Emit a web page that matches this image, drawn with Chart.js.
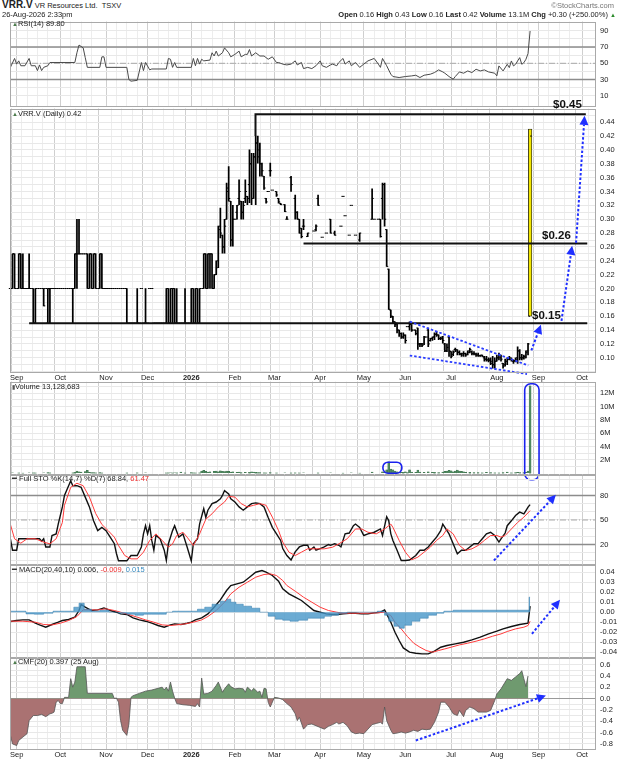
<!DOCTYPE html>
<html><head><meta charset="utf-8">
<script src="https://cdn.jsdelivr.net/npm/chart.js"></script>
<style>
html,body{margin:0;padding:0;background:#fff;}
body{width:624px;height:759px;overflow:hidden;position:relative;font-family:"Liberation Sans",Arial,sans-serif;}
.wrap{position:absolute;left:0;width:624px;}
.wrap canvas{display:block;}
.t{position:absolute;white-space:nowrap;font-size:7.5px;line-height:1;color:#222;z-index:5;}
.big{position:absolute;font-weight:bold;font-size:11.5px;line-height:1;color:#111;z-index:5;white-space:nowrap;}
.ic{font-size:6px;color:#4a7a4a;}
</style></head><body>
<div id="charts"></div>
<div class="t" style="left:2px;top:0px;"><b style="font-size:10px;">VRR.V</b> VR Resources Ltd. &nbsp;TSXV</div>
<div class="t" style="right:10px;top:2px;color:#777;">©StockCharts.com</div>
<div class="t" style="left:2px;top:11px;">26-Aug-2026 2:33pm</div>
<div class="t" style="right:8px;top:11px;"><b>Open</b> 0.16 <b>High</b> 0.43 <b>Low</b> 0.16 <b>Last</b> 0.42 <b>Volume</b> 13.1M <b>Chg</b> +0.30 (+250.00%) <span style="color:#2a8a2a;font-size:6px;">▲</span></div>
<div class="t" style="left:12px;top:20px;"><span class="ic">▲</span>RSI(14) 89.80</div>
<div class="t" style="left:12px;top:110px;"><span class="ic">▲</span>VRR.V (Daily) 0.42</div>
<div class="t" style="left:12px;top:383px;"><span style="font-size:6px;color:#555;">▮</span>Volume 13,128,683</div>
<div class="t" style="left:12px;top:475px;">━ Full STO %K(14,7) %D(7) 68.84, <span style="color:#e33;">61.47</span></div>
<div class="t" style="left:12px;top:566px;">━ MACD(20,40,10) 0.006, <span style="color:#e33;">-0.009</span>, <span style="color:#3a8cc0;">0.015</span></div>
<div class="t" style="left:12px;top:658px;"><span class="ic">▲</span>CMF(20) 0.397 (25 Aug)</div>
<div class="big" style="left:553px;top:99px;">$0.45</div>
<div class="big" style="left:542px;top:230px;">$0.26</div>
<div class="big" style="left:532px;top:310px;">$0.15</div>
<script>
// ---------- DATA ----------
const firstDay = -3; // trading-day index of first bar (0 = 2 Sep 2025)
const monthStartDay = [0,21,43,63,84,105,124,146,167,187,209,231,251,272];
const monthLabels = ['Sep','Oct','Nov','Dec','2026','Feb','Mar','Apr','May','Jun','Jul','Aug','Sep','Oct'];

const priceOpen = [
.20,.20,.25,.20,.20,.25,.20,.20,.20,.20,
.20,.20,.15,.20,.20,.20,.20,.20,.15,.20,
.20,.20,.20,.20,.20,.20,.20,.20,.20,.20,
.20,.20,.25,.25,.25,.25,.25,.25,.20,.25,
.20,.25,.20,.20,.25,.20,.20,.20,.20,.20,
.20,.20,.20,.20,.20,.20,.20,.15,.15,.15,
.15,.15,.15,.20,.15,.15,.15,.20,.20,.15,
.15,.15,.15,.15,.15,.15,.20,.15,.20,.20,
.15,.15,.15,.15,.15,.15,.15,.15,.20,.15,
.20,.15,.20,.20,.25,.20,.25,.25,.20,.22,
.24,.29,.277,.26,.30,.34,.326,.27,.30,.31,
.33,.326,.31,.33,.333,.35,.38,.33,.39,.41,
.40,.38,.362,.33,.34,.37,.342,null,.34,.33,
.323,null,.321,.30,null,.36,null,.33,.31,.30,
.287,.29,null,.275,null,null,.283,.285,.33,null,
.274,null,.28,null,.30,null,.28,null,null,.29,
.333,.305,null,.277,.32,null,.277,null,.27,null,
null,null,null,null,.30,.30,null,.30,.30,.33,
.35,.285,.228,.169,.16,.152,.15,.14,.135,.13,
.133,.145,.145,.148,.14,.14,.143,.12,.12,.12,
.13,.14,.125,.128,.13,.134,.133,.128,.13,.12,
.11,.13,.109,.105,.112,.11,.108,.105,.106,.106,
.105,.11,.109,.106,.105,.104,.103,.104,.10,.098,
.097,.098,.095,.09,.095,.10,.10,.092,.09,.095,
.098,.098,.095,.096,.10,.11,.10,.10,.10,.11,.16];
const priceHigh = [
.20,.25,.25,.20,.25,.25,.25,.20,.20,.25,
.20,.20,.20,.20,.20,.20,.20,.20,.20,.20,
.20,.20,.20,.20,.20,.20,.20,.20,.20,.20,
.20,.25,.30,.30,.25,.25,.25,.25,.25,.25,
.25,.25,.20,.25,.25,.20,.20,.20,.20,.20,
.20,.20,.20,.20,.20,.20,.20,.15,.15,.15,
.15,.20,.15,.20,.15,.20,.15,.20,.20,.15,
.15,.15,.15,.15,.15,.20,.20,.20,.20,.20,
.20,.15,.15,.15,.20,.15,.15,.20,.20,.20,
.20,.20,.20,.25,.25,.25,.25,.25,.22,.24,
.29,.316,.277,.30,.352,.376,.326,.32,.30,.32,
.357,.326,.326,.357,.333,.40,.395,.395,.42,.42,
.41,.381,.362,.33,.34,.381,.342,null,.34,.33,
.323,null,.321,.304,null,.362,null,.335,.311,.30,
.287,.30,null,.28,null,null,.283,.292,.335,null,
.274,null,.28,null,.30,null,.283,null,null,.29,
.333,.305,null,.277,.32,null,.277,null,.28,null,
null,null,null,null,.344,.30,null,.30,.30,.352,
.352,.285,.228,.169,.16,.152,.15,.14,.136,.136,
.133,.145,.152,.148,.14,.14,.143,.121,.121,.131,
.13,.143,.128,.13,.136,.138,.133,.13,.131,.121,
.12,.131,.109,.11,.114,.112,.11,.107,.109,.107,
.11,.114,.11,.109,.107,.107,.104,.104,.102,.102,
.10,.10,.102,.10,.104,.107,.104,.092,.098,.10,
.102,.10,.097,.10,.116,.112,.105,.104,.11,.121,.43];
const priceLow = [
.20,.20,.20,.20,.20,.20,.20,.20,.20,.20,
.20,.15,.15,.20,.20,.20,.175,.20,.15,.15,
.20,.20,.20,.20,.20,.20,.20,.20,.20,.20,
.15,.20,.20,.25,.25,.25,.25,.20,.20,.20,
.20,.20,.20,.20,.20,.20,.20,.20,.20,.20,
.20,.20,.20,.20,.20,.20,.15,.15,.15,.15,
.15,.15,.15,.20,.15,.15,.15,.20,.20,.15,
.15,.15,.15,.15,.15,.15,.15,.15,.15,.15,
.15,.15,.15,.15,.15,.15,.15,.15,.15,.15,
.15,.15,.20,.20,.20,.20,.20,.20,.20,.22,
.23,.273,.251,.251,.30,.326,.261,.261,.30,.30,
.321,.30,.30,.324,.321,.324,.321,.33,.321,.381,
.362,.362,.343,.323,.34,.362,.342,null,.333,.323,
.321,null,.311,.30,null,.34,null,.30,.30,.28,
.273,.285,null,.275,null,null,.283,.283,.32,null,
.274,null,.28,null,.28,null,.277,null,null,.29,
.333,.305,null,.277,.32,null,.277,null,.268,null,
null,null,null,null,.30,.30,null,.30,.274,.30,
.29,.232,.17,.158,.15,.145,.136,.131,.128,.128,
.121,.145,.14,.138,.14,.133,.112,.116,.116,.119,
.13,.116,.124,.125,.126,.131,.126,.126,.121,.109,
.109,.102,.10,.103,.109,.104,.104,.102,.102,.102,
.104,.107,.104,.104,.102,.102,.102,.102,.095,.095,
.094,.09,.085,.085,.095,.097,.095,.085,.088,.09,
.097,.095,.092,.094,.092,.097,.097,.098,.10,.104,.16];
const priceClose = [
.20,.25,.20,.20,.25,.20,.20,.20,.20,.20,
.20,.15,.20,.20,.20,.20,.175,.20,.20,.20,
.20,.20,.20,.20,.20,.20,.20,.20,.20,.20,
.20,.25,.25,.25,.25,.25,.25,.20,.25,.20,
.25,.20,.20,.25,.20,.20,.20,.20,.20,.20,
.20,.20,.20,.20,.20,.20,.15,.15,.15,.15,
.15,.15,.15,.20,.15,.15,.15,.20,.20,.15,
.15,.15,.15,.15,.15,.20,.15,.20,.20,.15,
.15,.15,.15,.15,.15,.15,.15,.20,.15,.20,
.15,.20,.20,.25,.20,.25,.25,.20,.22,.23,
.285,.28,.26,.29,.345,.33,.27,.30,.30,.32,
.34,.31,.32,.34,.33,.38,.33,.39,.41,.39,
.38,.37,.345,.325,.34,.37,.342,null,.335,.325,
.321,null,.311,.30,null,.35,null,.31,.30,.28,
.275,.29,null,.28,null,null,.283,.29,.32,null,
.274,null,.28,null,.28,null,.277,null,null,.29,
.333,.305,null,.277,.32,null,.277,null,.28,null,
null,null,null,null,.33,.30,null,.30,.275,.35,
.30,.232,.17,.16,.152,.148,.14,.135,.13,.132,
.125,.145,.15,.14,.14,.135,.12,.12,.118,.13,
.13,.12,.128,.13,.134,.133,.128,.128,.125,.11,
.115,.11,.102,.108,.112,.108,.106,.104,.106,.104,
.108,.112,.106,.106,.104,.103,.103,.102,.098,.097,
.096,.092,.09,.095,.10,.104,.098,.088,.095,.098,
.10,.097,.095,.098,.11,.10,.10,.102,.108,.12,.42];

const volDays = [-2,1,3,6,8,9,13,15,16,27,28,29,30,31,33,34,35,36,37,38,40,41,53,58,62,72,73,74,75,76,77,79,81,84,85,86,88,
89,90,91,92,93,95,96,97,98,99,100,101,102,103,104,106,107,108,110,112,113,114,115,116,117,119,120,122,125,129,132,134,136,138,145,151,157,161,165,
171,176,177,178,179,180,181,182,183,184,185,186,187,188,189,190,192,193,194,196,198,200,201,203,205,206,207,208,209,210,211,212,213,214,215,216,218,220,222,224,226,228,230,232,234,236,238,240,241,242,244,245,246,247];
const volVals = [0.03,0.04,0.02,0.03,0.05,0.04,0.03,0.06,0.05,0.05,0.12,0.30,0.20,0.15,0.22,0.40,0.10,0.08,0.06,0.05,0.06,0.04,0.04,0.05,0.03,0.04,0.05,0.03,0.04,0.03,0.05,0.15,0.04,0.06,0.05,0.04,0.05,
0.30,0.40,0.25,0.15,0.20,0.25,0.30,0.20,0.35,0.28,0.22,0.30,0.25,0.15,0.20,0.10,0.15,0.08,0.10,0.12,0.18,0.15,0.12,0.08,0.06,0.05,0.04,0.06,0.04,0.03,0.04,0.05,0.04,0.03,0.04,0.03,0.02,0.03,0.02,
0.15,0.20,0.15,0.50,1.70,0.60,0.50,0.30,0.20,0.15,0.10,0.12,0.20,0.08,0.50,0.15,0.10,0.45,0.15,0.10,0.20,0.10,0.12,0.08,0.15,0.25,0.30,0.40,0.35,0.20,0.30,0.45,0.30,0.25,0.20,0.10,0.12,0.08,0.06,0.05,0.10,0.06,0.05,0.04,0.08,0.15,0.05,0.06,0.10,0.08,0.06,0.10,0.30,13.13];

const rsiDays = [-3,-1,0,1,2,4,6,7,9,10,11,12,13,15,16,28,29,30,32,33,34,40,41,42,43,53,54,55,58,60,61,62,64,65,72,73,74,75,76,77,84,85,86,87,88,89,90,93,94,95,96,97,99,100,102,103,105,107,108,110,111,112,113,115,117,119,121,123,125,126,128,130,132,134,135,137,138,140,142,144,146,147,149,151,152,154,155,157,158,160,161,163,165,167,169,172,174,175,176,178,180,181,184,187,190,192,194,196,199,201,203,205,206,208,210,211,213,215,217,219,221,223,225,227,230,231,232,234,236,237,238,239,240,242,243,244,245,246,247];
const rsiVals = [45,56,49,53,47,47,56,47,47,41,48,41,45,47,51,51,63,72.5,69,57,45,45,58,58,45,45,30,28,29,51,41,51,42,43,43,56,55,45,51,45,45,56,47,56,49,55,53,54,63,59,65,59,63,69,63,58,61,65,58,61,61,67,59,63,59,59,55,58,51,51,49,48,49,53,48,51,43.5,45,43.5,47,53,47,45,48,49,47,51,56,49,53,47,51,45,49,53,56,49,45,56,47,36.6,33.7,32.5,33.7,34.5,35.3,32.5,35.3,36.6,38.6,41.9,39.4,37.8,33.7,30.4,33.7,39.4,37.8,40.6,38.6,42.7,40.6,41.9,39.4,37.8,34.5,46.8,40.6,48.8,44.7,52.9,46.8,48.8,57,48.8,50.8,55,62,89.8];

const stoKDays = [-3,-2,0,1,3,7,11,12,13,14,16,17,19,20,22,23,25,26,27,29,31,33,35,37,39,41,43,45,47,48,49,51,53,55,58,60,61,62,63,64,65,66,67,69,71,72,73,75,76,78,80,82,84,85,87,88,90,91,92,94,96,98,99,100,102,103,105,107,109,111,113,115,117,119,121,123,125,127,128,130,132,134,136,138,140,141,143,144,146,148,150,151,153,155,156,158,160,162,163,165,167,169,172,175,176,178,179,180,181,183,185,187,189,192,194,196,198,200,202,204,205,206,208,210,212,214,216,218,220,222,224,226,228,230,232,233,235,236,238,240,242,244,245,246,247];
const stoKVals = [27,13,13,27,27,27,27,24,27,17,17,31,33,45,66,80,92,98,92,92,90,78,66,49,37,41,37,29,21,9,0,0,0,6.5,6.5,17,33,43,33,43,25,13,31,27,13,0.4,21,37,43,29,33,17,0,21,27,45,64,53,62,70,72,76,80,86,82,76,72,66,62,66,70,71,70,66,53,41,33,25,15,6.5,1,11,17,19,19,13,17,13,15,17,20,19,21,19,17,33,34,43,45,41,31,33,35,39,31,54,49,33,25,13,0.4,0.4,1,6.5,13,13,17,23,29,37,45,41,33,21,8.6,13,13,17,21,21,27,33,35,31,23,27,34,43,49,55.5,59.6,57.6,61.6,65.7,68.84];
const stoDDays = [-3,-1,2,5,9,13,16,19,22,23,26,29,32,35,38,41,44,47,49,52,55,58,61,64,67,70,73,75,77,80,82,85,88,91,94,97,100,102,105,108,111,114,117,120,123,126,128,131,134,137,140,144,148,152,155,159,163,166,169,173,177,180,181,184,187,190,193,196,199,202,205,207,210,213,216,219,222,225,228,231,233,235,238,241,244,247];
const stoDVals = [44.5,27,21.6,27,27,22.9,20.8,27,47,68,90,95,92,78,58,44.5,37,29,18.8,6.5,2.4,2.4,10.6,25,33,25,16.7,20.8,31,35,29,18.8,33,51,57.6,66,72,79,78,70,66,68,70,68,53.5,37,23,10.6,6.5,10.6,14.7,14.7,14.7,16.7,20.8,27,39,39,35,33,39,45,41,25,10.6,1.2,4.5,10.6,16.7,25,31,39,33,18.8,12.7,14.7,18.8,25,31,31,29,31,39,47,53.5,61.47];

const macdDays = [-3,0,3,6,9,11,14,17,20,22,25,28,30,31,33,36,39,42,45,48,50,53,56,59,62,65,68,71,74,76,79,82,84,86,89,92,95,98,101,103,106,109,112,115,118,120,123,126,128,131,134,137,140,143,146,149,152,154,157,160,163,166,169,172,175,177,178,180,182,184,186,189,192,195,198,201,204,207,211,215,219,223,227,231,234,238,242,246,247];
const macdVals = [-0.0093,-0.0083,-0.0077,-0.0077,-0.011,-0.0127,-0.015,-0.0123,-0.01,-0.0083,-0.0073,-0.005,0.0017,0.0077,0.005,0.0017,0.0023,0.0043,0.0017,0,-0.0017,-0.0023,-0.0057,-0.0077,-0.009,-0.011,-0.0133,-0.015,-0.0127,-0.0117,-0.0123,-0.011,-0.01,-0.0077,-0.0057,-0.0017,0.005,0.0123,0.0217,0.0267,0.0283,0.03,0.035,0.04,0.0417,0.04,0.0367,0.031,0.0233,0.0183,0.015,0.0117,0.0067,0.0017,0,-0.0017,-0.0023,-0.0023,-0.0017,-0.001,-0.001,-0.0017,-0.0017,-0.0007,0,0.0023,-0.0017,-0.01,-0.02,-0.0283,-0.0357,-0.04,-0.041,-0.0417,-0.0417,-0.039,-0.035,-0.0333,-0.0317,-0.03,-0.0277,-0.025,-0.0217,-0.019,-0.0167,-0.0143,-0.0123,-0.011,0.006];
const signalDays = [-3,3,9,13,17,21,25,29,32,35,39,43,47,50,54,58,62,66,70,74,77,81,85,89,92,96,100,103,107,111,115,119,122,125,128,130,134,138,142,146,150,154,157,161,165,169,173,177,180,182,185,188,191,194,197,200,203,206,209,213,217,221,225,229,233,236,240,244,246,247];
const signalVals = [-0.009,-0.009,-0.01,-0.0123,-0.0127,-0.011,-0.0083,-0.0043,0.0023,0.0023,0.0023,0.0033,0.0017,0,-0.0023,-0.005,-0.0077,-0.01,-0.0127,-0.0133,-0.0127,-0.0117,-0.01,-0.0077,-0.0043,0.0017,0.01,0.0183,0.025,0.03,0.035,0.0377,0.0383,0.0367,0.0317,0.0267,0.021,0.015,0.01,0.005,0.0017,0,-0.001,-0.001,-0.001,-0.001,-0.0007,0,-0.0033,-0.01,-0.0167,-0.0243,-0.031,-0.035,-0.0383,-0.04,-0.0383,-0.0367,-0.035,-0.0327,-0.031,-0.029,-0.0267,-0.024,-0.0217,-0.0193,-0.0167,-0.015,-0.0133,-0.009];
const histDays = [-3,3,6,11,15,20,26,29,31,34,38,42,47,51,55,59,63,67,71,73,77,81,85,89,92,96,100,102,104,107,111,115,119,123,126,130,133,138,142,146,150,153,157,161,165,171,176,178,180,183,185,188,192,196,200,204,207,213,223,232,242,246,247];
const histVals = [0.001,0.001,-0.0017,-0.002,-0.001,0.001,0.001,0.005,0.009,0.003,0.001,0.002,0,-0.001,-0.002,-0.003,-0.002,-0.002,-0.002,0,0.001,0.001,0.001,0.003,0.005,0.008,0.011,0.013,0.01,0.008,0.006,0.004,0,-0.004,-0.007,-0.008,-0.009,-0.008,-0.006,-0.006,-0.004,-0.003,-0.001,0,0,0,0.001,-0.003,-0.009,-0.014,-0.016,-0.013,-0.009,-0.006,-0.003,-0.001,0.001,0.002,0.002,0.002,0.002,0.002,0.015];

const cmfDays = [-3,-2,0,1,3,5,6,8,10,12,14,16,17,18,19,20,21,22,23,25,26,27,28,29,33,34,46,47,48,49,50,51,53,54,55,56,59,62,65,68,70,71,72,73,74,75,76,77,80,83,86,87,88,89,90,92,94,96,97,99,100,102,103,105,107,109,110,111,112,113,114,116,117,118,119,120,121,122,124,126,128,130,132,134,135,136,138,140,142,144,146,148,150,152,154,155,157,159,161,163,165,167,169,171,173,175,176,177,178,180,181,183,185,187,189,191,193,195,197,199,201,203,204,206,208,210,212,213,215,216,218,220,222,224,226,228,230,231,233,235,236,238,240,242,243,244,245,246];
const cmfVals = [-0.65,-0.80,-0.83,-0.74,-0.68,-0.62,-0.39,-0.30,-0.30,-0.28,-0.32,-0.27,-0.26,-0.24,-0.065,-0.035,-0.09,-0.09,0.02,0.02,0.35,0.20,0.29,0.56,0.56,0.09,0.09,0.0,0.01,-0.065,-0.39,-0.56,-0.65,-0.45,0.02,0.05,0.09,0.13,0.15,0.18,0.20,0.15,0.20,0.13,0.29,0.13,0.01,-0.09,-0.11,-0.12,-0.14,-0.09,-0.15,0.36,0.08,0.09,0.13,0.23,0.29,0.11,0.17,0.26,0.21,0.17,0.18,0.17,0.11,0.20,0.17,0.13,0.18,0.11,0.13,0.02,0.18,0.17,-0.065,-0.15,0.02,0.01,-0.02,-0.09,-0.15,-0.27,-0.39,-0.33,-0.54,-0.46,-0.45,-0.48,-0.51,-0.54,-0.49,-0.46,-0.42,-0.45,-0.42,-0.48,-0.59,-0.62,-0.61,-0.62,-0.54,-0.46,-0.44,-0.42,-0.45,-0.15,-0.39,-0.56,-0.62,-0.61,-0.59,-0.61,-0.59,-0.56,-0.58,-0.54,-0.55,-0.54,-0.42,-0.24,-0.065,-0.065,-0.15,-0.27,-0.30,-0.21,-0.32,-0.21,-0.15,-0.18,-0.24,-0.24,-0.24,-0.21,-0.035,0.08,0.17,0.29,0.35,0.32,0.38,0.44,0.49,0.35,0.21,0.397];

// ---------- LAYOUT / HELPERS ----------
Chart.defaults.font.family = "'Liberation Sans', Arial, sans-serif";
const X_MIN = -3.2, X_MAX = 278.7;
const FONT = {family:"'Liberation Sans', Arial, sans-serif", size:7.5};
function weekTicks(){
  const t = [];
  for (let m = 0; m < monthStartDay.length; m++){
    const s = monthStartDay[m];
    const e = m + 1 < monthStartDay.length ? monthStartDay[m+1] : X_MAX;
    for (let d = s; d < e - 2; d += 5) t.push(d);
  }
  return t;
}
function xScale(show){
  return {type:'linear', min:X_MIN, max:X_MAX, offset:false, position:'bottom',
    afterBuildTicks: s => { s.ticks = weekTicks().map(v => ({value:v})); },
    grid:{color: c => (c.tick && monthStartDay.includes(c.tick.value)) ? '#cfcfcf' : '#ededed', lineWidth:1, drawTicks:false},
    border:{display:false},
    ticks:{display:show, autoSkip:false, maxRotation:0, padding:1, color:'#222',
      font: c => ({family:FONT.family, size:7.5, weight:(c.tick && c.tick.value === 84) ? 'bold' : 'normal'}),
      callback: v => { const i = monthStartDay.indexOf(v); return i >= 0 ? monthLabels[i] : ''; }}
  };
}
function yScale(min, max, vals, fmt){
  return {type:'linear', position:'right', min, max,
    afterBuildTicks: s => { s.ticks = vals.filter(v => v >= min && v <= max).map(v => ({value:v})); },
    afterFit: s => { s.width = 28; },
    grid:{color:'#e8e8e8', drawTicks:false},
    border:{display:false},
    ticks:{autoSkip:false, padding:4, color:'#222', font:FONT, callback: v => fmt(v)}
  };
}
function frame(specials){
  return {id:'frame',
    beforeDatasetsDraw(ch){
      const {ctx, chartArea:a, scales:{y}} = ch;
      ctx.save();
      (specials || []).forEach(s => {
        const py = y.getPixelForValue(s.v);
        ctx.strokeStyle = s.c; ctx.lineWidth = s.w; ctx.setLineDash(s.d || []);
        ctx.beginPath(); ctx.moveTo(a.left, py); ctx.lineTo(a.right, py); ctx.stroke();
      });
      ctx.restore();
    },
    afterDraw(ch){
      const {ctx, chartArea:a} = ch;
      ctx.save(); ctx.strokeStyle = '#a9a9a9'; ctx.lineWidth = 1;
      ctx.strokeRect(Math.round(a.left) + 0.5, Math.round(a.top) + 0.5, Math.round(a.right - a.left) - 1, Math.round(a.bottom - a.top) - 1);
      ctx.restore();
    }};
}
function arrow(ctx, x1, y1, x2, y2){
  const ang = Math.atan2(y2 - y1, x2 - x1), L = 9, W = 4.5;
  const bx = x2 - L * Math.cos(ang), by = y2 - L * Math.sin(ang);
  ctx.save();
  ctx.strokeStyle = '#1f2fff'; ctx.fillStyle = '#1f2fff'; ctx.lineWidth = 2; ctx.setLineDash([2.5, 2]);
  ctx.beginPath(); ctx.moveTo(x1, y1); ctx.lineTo(bx, by); ctx.stroke();
  ctx.setLineDash([]);
  ctx.beginPath(); ctx.moveTo(x2, y2);
  ctx.lineTo(bx + W * Math.sin(ang), by - W * Math.cos(ang));
  ctx.lineTo(bx - W * Math.sin(ang), by + W * Math.cos(ang));
  ctx.closePath(); ctx.fill();
  ctx.restore();
}
function pts(days, vals){ return days.map((d, i) => ({x:d, y:vals[i]})); }
function makePanel(areaTop, areaBottom, cfg){
  const wrap = document.createElement('div'); wrap.className = 'wrap';
  const h0 = areaBottom - areaTop + 60;
  wrap.style.top = (areaTop - 30) + 'px'; wrap.style.height = h0 + 'px';
  const cv = document.createElement('canvas'); wrap.appendChild(cv);
  document.getElementById('charts').appendChild(wrap);
  cfg.options.responsive = true; cfg.options.maintainAspectRatio = false; cfg.options.animation = false;
  cfg.options.events = [];
  cfg.options.plugins = {legend:{display:false}, tooltip:{enabled:false}};
  const ch = new Chart(cv, cfg);
  const dl = 10 - ch.chartArea.left;
  if (Math.abs(dl) > 0.05){ ch.config.options.layout.padding.left += dl; ch.update('none'); }
  const ca = ch.chartArea;
  const topPad = ca.top, botPad = h0 - ca.bottom;
  wrap.style.top = (areaTop - topPad) + 'px';
  wrap.style.height = (areaBottom - areaTop + topPad + botPad) + 'px';
  ch.resize();
  return ch;
}
const range = (a, b, step) => { const r = []; for (let k = a; k <= b; k += step) r.push(k); return r; };

// ---------- RSI ----------
makePanel(21, 106, {type:'line',
  data:{datasets:[{data:pts(rsiDays, rsiVals), borderColor:'#4a4a4a', borderWidth:1, pointRadius:0, tension:0}]},
  options:{layout:{padding:{left:10, right:0, top:0, bottom:0}},
    scales:{x:xScale(false), y:yScale(-3.2, 101.5, range(10, 90, 10), v => [10,30,50,70,90].includes(v) ? String(v) : '')}},
  plugins:[frame([{v:70,c:'#8c8c8c',w:1.5},{v:30,c:'#8c8c8c',w:1.5},{v:50,c:'#a8a8a8',w:1,d:[6,2,1,2]}])]
});

// ---------- PRICE ----------
const lastI = priceClose.length - 1;
const hlData = [];
for (let i = 0; i < lastI; i++){
  if (priceHigh[i] != null && priceHigh[i] > priceLow[i]) hlData.push({x:firstDay + i, y:[priceLow[i], priceHigh[i]]});
}
const ohlcTicks = {id:'ohlcTicks', afterDatasetsDraw(ch){
  const {ctx, scales:{x, y}} = ch;
  ctx.save(); ctx.strokeStyle = '#000'; ctx.lineWidth = 1; ctx.beginPath();
  for (let i = 0; i < priceClose.length; i++){
    if (priceOpen[i] == null) continue;
    const px = x.getPixelForValue(firstDay + i), yo = y.getPixelForValue(priceOpen[i]), yc = y.getPixelForValue(priceClose[i]);
    ctx.moveTo(px - 1.6, yo); ctx.lineTo(px, yo);
    ctx.moveTo(px, yc); ctx.lineTo(px + 1.6, yc);
  }
  ctx.stroke(); ctx.restore();
}};
const priceAnn = {id:'priceAnn', afterDatasetsDraw(ch){
  const {ctx, scales:{x, y}} = ch;
  const X = v => x.getPixelForValue(v), Y = v => y.getPixelForValue(v);
  ctx.save();
  ctx.strokeStyle = '#111'; ctx.lineWidth = 2; ctx.setLineDash([]);
  ctx.beginPath();
  ctx.moveTo(X(6), Y(0.15)); ctx.lineTo(X(274.5), Y(0.15));
  ctx.moveTo(X(138), Y(0.265)); ctx.lineTo(X(274.5), Y(0.265));
  ctx.moveTo(X(114.9), Y(0.42)); ctx.lineTo(X(114.9), Y(0.4515)); ctx.lineTo(X(273.8), Y(0.4515));
  ctx.stroke();
  ctx.strokeStyle = '#2a3cff'; ctx.lineWidth = 1.8; ctx.setLineDash([2.5, 2]);
  ctx.beginPath();
  ctx.moveTo(X(189.1), Y(0.1523)); ctx.lineTo(X(246.1), Y(0.0889));
  ctx.moveTo(X(189.1), Y(0.1033)); ctx.lineTo(X(245.5), Y(0.0766));
  ctx.stroke();
  ctx.restore();
  arrow(ctx, X(247.6), Y(0.1106), X(252.2), Y(0.1476));
  arrow(ctx, X(262.1), Y(0.1533), X(267.2), Y(0.2616));
  arrow(ctx, X(269.1), Y(0.2659), X(273.2), Y(0.4492));
}};
makePanel(108, 372, {type:'bar',
  data:{datasets:[
    {data:hlData, backgroundColor:'#000', borderWidth:0, barThickness:1.05, grouped:false},
    {data:[{x:firstDay + lastI, y:[priceLow[lastI], priceHigh[lastI]]}], backgroundColor:'#f2e600', borderColor:'#222', borderWidth:0.8, borderSkipped:false, barThickness:3.5, grouped:false}
  ]},
  options:{layout:{padding:{left:10, right:0, top:0, bottom:0}},
    scales:{x:xScale(true), y:yScale(0.0788, 0.4598, range(8, 45, 1).map(k => k / 100), v => { const k = Math.round(v * 100); return (k % 2 === 0 && k >= 10 && k <= 44) ? v.toFixed(2) : ''; })}},
  plugins:[frame([]), ohlcTicks, priceAnn]
});

// ---------- VOLUME ----------
const volAnn = {id:'volAnn', afterDatasetsDraw(ch){
  const {ctx, scales:{x, y}} = ch;
  const X = v => x.getPixelForValue(v), Y = v => y.getPixelForValue(v);
  ctx.save(); ctx.strokeStyle = '#1a22ee'; ctx.lineWidth = 1.6;
  ctx.beginPath(); ctx.roundRect(X(176.2), Y(1.64), X(185.3) - X(176.2), Y(-0.02) - Y(1.64), 5); ctx.stroke();
  ctx.beginPath(); ctx.roundRect(X(244.4), Y(13.43), X(251.3) - X(244.4), Y(-1.0) - Y(13.43), 6); ctx.stroke();
  ctx.restore();
}};
makePanel(381, 474, {type:'bar',
  data:{datasets:[{data:pts(volDays, volVals), backgroundColor:'#4f8a60', borderColor:'#3a6a48', borderWidth:0.4, barThickness:2, grouped:false}]},
  options:{layout:{padding:{left:10, right:0, top:0, bottom:8}},
    scales:{x:xScale(false), y:yScale(-0.21, 13.77, range(1, 13, 1), v => (v % 2 === 0) ? v + 'M' : '')}},
  plugins:[frame([]), volAnn]
});

// ---------- FULL STO ----------
const stoAnn = {id:'stoAnn', afterDatasetsDraw(ch){
  const {ctx, scales:{x, y}} = ch;
  arrow(ctx, x.getPixelForValue(229.6), y.getPixelForValue(0.4), x.getPixelForValue(259.4), y.getPixelForValue(81));
}};
makePanel(474, 564, {type:'line',
  data:{datasets:[
    {data:pts(stoDDays, stoDVals), borderColor:'#ff3b3b', borderWidth:1, pointRadius:0, tension:0},
    {data:pts(stoKDays, stoKVals), borderColor:'#111', borderWidth:1.4, pointRadius:0, tension:0}
  ]},
  options:{layout:{padding:{left:10, right:0, top:0, bottom:0}},
    scales:{x:xScale(false), y:yScale(-4.5, 105.7, range(0, 100, 10), v => [20,50,80].includes(v) ? String(v) : '')}},
  plugins:[frame([{v:80,c:'#8c8c8c',w:1.5},{v:20,c:'#8c8c8c',w:1.5},{v:50,c:'#a8a8a8',w:1,d:[6,2,1,2]}]), stoAnn]
});

// ---------- MACD ----------
const macdAnn = {id:'macdAnn', afterDatasetsDraw(ch){
  const {ctx, scales:{x, y}} = ch;
  arrow(ctx, x.getPixelForValue(247.9), y.getPixelForValue(-0.0216), x.getPixelForValue(261.4), y.getPixelForValue(0.0124));
}};
makePanel(564, 657, {type:'line',
  data:{datasets:[
    {data:pts(histDays, histVals), borderColor:'#2f78a8', borderWidth:0.5, backgroundColor:'rgba(70,150,200,0.8)', fill:'origin', stepped:'middle', pointRadius:0},
    {data:pts(signalDays, signalVals), borderColor:'#ff3b3b', borderWidth:1, pointRadius:0, tension:0},
    {data:pts(macdDays, macdVals), borderColor:'#111', borderWidth:1.4, pointRadius:0, tension:0}
  ]},
  options:{layout:{padding:{left:10, right:0, top:0, bottom:0}},
    scales:{x:xScale(false), y:yScale(-0.0453, 0.0477, range(-4, 4, 1).map(k => k / 100), v => v.toFixed(2))}},
  plugins:[frame([]), macdAnn]
});

// ---------- CMF ----------
const cmfAnn = {id:'cmfAnn', afterDatasetsDraw(ch){
  const {ctx, scales:{x, y}} = ch;
  arrow(ctx, x.getPixelForValue(192), y.getPixelForValue(-0.74), x.getPixelForValue(254.6), y.getPixelForValue(0.053));
}};
makePanel(657, 749, {type:'line',
  data:{datasets:[
    {data:pts(cmfDays, cmfVals), borderColor:'#555', borderWidth:0.8, pointRadius:0, tension:0,
     fill:{target:{value:0}, above:'#6f9a6f', below:'#aa7272'}}
  ]},
  options:{layout:{padding:{left:10, right:0, top:0, bottom:0}},
    scales:{x:xScale(true), y:yScale(-0.899, 0.723, range(-8, 7, 1).map(k => k / 10), v => { const k = Math.round(v * 10); return (k % 2 === 0) ? v.toFixed(1) : ''; })}},
  plugins:[frame([{v:0,c:'#9a9a9a',w:1.2}]), cmfAnn]
});
</script>
</body></html>
